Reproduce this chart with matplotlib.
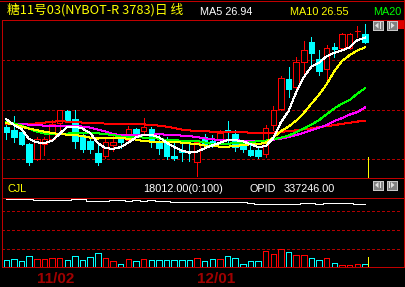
import matplotlib
matplotlib.use("Agg")
import matplotlib.pyplot as plt
from matplotlib.lines import Line2D
from matplotlib.patches import Rectangle, Polygon
from matplotlib.transforms import blended_transform_factory

# daily bars, sugar no.11 (NYBOT) march contract
opens = [23.38, 23.24, 23.16, 22.67, 22.08, 22.68, 22.90, 23.54, 24.02, 23.68,
         23.04, 22.80, 22.34, 22.20, 22.64, 22.90, 22.86, 23.28, 23.19, 23.28,
         22.80, 22.80, 22.20, 22.42, 22.39, 21.98, 22.96, 22.82, 22.86, 23.24,
         23.08, 22.68, 22.44, 22.44, 22.28, 23.44, 24.07, 25.28, 24.98, 25.98,
         26.75, 26.07, 25.67, 26.56, 26.51, 26.51, 27.20, 27.08]
highs = [23.68, 23.80, 23.20, 22.72, 22.96, 22.98, 23.66, 24.04, 24.06, 24.04,
         23.12, 22.96, 22.72, 22.92, 23.08, 22.94, 23.40, 23.32, 23.72, 23.38,
         23.10, 22.96, 22.72, 22.76, 22.68, 22.84, 23.08, 23.04, 23.26, 23.62,
         23.24, 22.78, 22.76, 22.58, 23.44, 24.20, 25.40, 25.76, 26.15, 26.80,
         26.98, 26.44, 26.64, 26.72, 27.14, 27.12, 27.40, 27.48]
lows = [22.88, 22.78, 22.64, 21.84, 22.04, 22.24, 22.86, 23.24, 23.58, 22.51,
        22.36, 22.34, 21.84, 22.14, 22.40, 22.52, 22.78, 22.96, 23.12, 22.56,
        22.28, 22.08, 22.04, 22.00, 22.02, 21.40, 22.60, 22.58, 22.80, 22.78,
        22.40, 22.36, 22.20, 22.14, 22.18, 23.24, 24.04, 24.58, 24.91, 25.40,
        25.84, 25.44, 25.11, 26.16, 26.50, 26.48, 26.96, 26.71]
closes = [23.15, 22.98, 22.68, 21.98, 22.88, 22.90, 23.50, 24.03, 23.62, 22.82,
          22.48, 22.47, 21.98, 22.77, 22.76, 22.78, 23.28, 23.12, 23.35, 22.76,
          22.54, 22.22, 22.14, 22.38, 22.36, 22.78, 22.68, 22.68, 23.11, 23.16,
          22.58, 22.48, 22.24, 22.20, 23.31, 24.04, 25.31, 24.87, 25.96, 26.43,
          26.34, 25.62, 26.52, 26.48, 27.08, 27.08, 27.22, 26.78]

# moving averages as drawn
ma5 = [23.68, 23.44, 23.28, 22.88, 22.75, 22.72, 22.82, 23.09, 23.38, 23.38,
       23.30, 23.12, 22.72, 22.52, 22.49, 22.56, 22.74, 22.95, 23.06, 23.05,
       22.96, 22.74, 22.56, 22.42, 22.34, 22.38, 22.51, 22.63, 22.73, 22.84,
       22.84, 22.79, 22.68, 22.56, 22.60, 22.92, 23.56, 24.00, 24.76, 25.36,
       25.78, 25.94, 26.20, 26.33, 26.43, 26.55, 26.84, 26.94]
ma10 = [23.52, 23.46, 23.38, 23.30, 23.24, 23.18, 23.12, 23.08, 23.06, 23.04,
        23.00, 22.94, 22.90, 22.94, 22.94, 22.91, 22.90, 22.86, 22.80, 22.78,
        22.78, 22.78, 22.76, 22.74, 22.71, 22.68, 22.62, 22.60, 22.58, 22.58,
        22.60, 22.64, 22.67, 22.68, 22.74, 22.94, 23.20, 23.38, 23.62, 23.93,
        24.30, 24.66, 25.08, 25.60, 26.00, 26.24, 26.42, 26.55]
ma20 = [23.56, 23.51, 23.42, 23.30, 23.18, 23.10, 23.10, 23.10, 23.10, 23.12,
        23.14, 23.14, 23.11, 23.08, 23.04, 22.98, 22.98, 22.96, 22.94, 22.92,
        22.90, 22.84, 22.83, 22.82, 22.82, 22.80, 22.74, 22.68, 22.68, 22.70,
        22.71, 22.72, 22.75, 22.80, 22.82, 22.87, 22.94, 23.02, 23.16, 23.30,
        23.46, 23.64, 23.88, 24.11, 24.30, 24.44, 24.70, 24.91]
ma_mid = [23.51, 23.50, 23.48, 23.46, 23.44, 23.42, 23.40, 23.40, 23.40, 23.40,
          23.38, 23.34, 23.26, 23.18, 23.08, 23.04, 23.04, 23.04, 23.05, 23.06,
          23.07, 23.06, 23.04, 23.02, 23.00, 22.96, 22.91, 22.87, 22.85, 22.84,
          22.83, 22.82, 22.80, 22.80, 22.82, 22.86, 22.90, 22.96, 23.04, 23.14,
          23.24, 23.34, 23.44, 23.60, 23.72, 23.86, 23.96, 24.14]
ma_long = [23.47, 23.48, 23.48, 23.48, 23.51, 23.54, 23.57, 23.60, 23.58, 23.56,
           23.54, 23.53, 23.52, 23.50, 23.48, 23.48, 23.47, 23.48, 23.47, 23.44,
           23.42, 23.38, 23.32, 23.26, 23.23, 23.20, 23.19, 23.18, 23.17, 23.16,
           23.16, 23.15, 23.14, 23.12, 23.12, 23.14, 23.17, 23.20, 23.23, 23.27,
           23.31, 23.36, 23.40, 23.44, 23.49, 23.53, 23.58, 23.62]

volume = [44700, 51400, 38000, 71400, 51400, 51400, 58000, 58000, 44700, 71400,
          44700, 64700, 91400, 58000, 38000, 18000, 51400, 38000, 51400, 46700,
          46700, 46700, 46700, 46700, 46700, 58000, 38000, 51400, 51400, 71400,
          58000, 18000, 38000, 38000, 106700, 84700, 118100, 98000, 78000, 78000,
          58000, 44700, 58000, 24700, 11300, 11300, 18000, 18012]
open_interest = [347800, 347800, 347800, 347800, 345800, 345800, 345800, 345800, 345800, 347200,
                 347200, 343200, 343200, 343200, 345200, 345200, 343200, 345200, 343200, 345800,
                 343200, 343200, 341200, 341200, 341200, 341200, 341200, 341200, 341200, 341200,
                 341200, 341200, 339800, 337200, 337200, 337200, 337200, 337200, 337200, 339200,
                 339200, 337200, 339200, 339200, 339200, 339200, 337246, 337246]

tick_pos = [4, 25]
tick_labels = ["11/02", "12/01"]
price_grid = [22.07, 24.05, 26.03]

W, H = 405, 287
RED = "#ff0000"
CYAN = "#00ffff"
FRAME = "#c00000"
DASH = "#b00000"
LATIN = "Liberation Sans"
LW = 0.72  # one pixel at 100 dpi

plt.rcParams["lines.scale_dashes"] = False


def fx(px):
    return px / W


def fy(py):
    return 1 - py / H


fig = plt.figure(figsize=(W / 100, H / 100), dpi=100, facecolor="black")

# panels (pixel layout of the original terminal window)
ax = fig.add_axes([fx(2), fy(178), fx(401.5), 158 / H])
axv = fig.add_axes([fx(2), fy(267), fx(401.5), 69 / H])
for a in (ax, axv):
    a.set_facecolor("black")
    a.set_axis_off()
    a.set_xlim(-0.564, 52.06)
ax.set_ylim(21.324, 27.644)
axv.set_ylim(0, 460000)

n = len(closes)
idx = list(range(n))
bw = 0.72

for lv in price_grid:
    ax.axhline(lv, color=DASH, lw=LW, dashes=(2.0, 1.6), antialiased=False, zorder=1)
for f in (0.26, 0.535, 0.81):
    axv.plot([0, 0.994], [f, f], transform=axv.transAxes, color=DASH, lw=LW,
             dashes=(2.0, 1.6), antialiased=False, zorder=1)

# candles
for i in idx:
    o, h, l, c = opens[i], highs[i], lows[i], closes[i]
    up = c >= o
    col = RED if up else CYAN
    top, bot = max(o, c), min(o, c)
    ax.plot([i, i], [l, h], color=col, lw=LW, antialiased=False, zorder=2)
    body = max(top - bot, 0.01)
    ax.add_patch(Rectangle((i - bw / 2, bot), bw, body,
                           facecolor="black" if up else CYAN, edgecolor=col,
                           lw=LW, antialiased=False, zorder=3))

for vals, col in ((ma_long, RED), (ma_mid, "#ff00ff"), (ma20, "#00ff00"),
                  (ma10, "#ffff00"), (ma5, "#ffffff")):
    ax.plot(idx, vals, color=col, lw=LW, antialiased=False, zorder=4)

# volume bars (hollow)
vcols = [RED if closes[i] >= opens[i] else CYAN for i in idx]
axv.bar(idx, volume, width=bw, facecolor="black", edgecolor=vcols,
        lw=LW, antialiased=False, zorder=2)

axo = axv.twinx()
axo.set_axis_off()
axo.set_ylim(211846, 349846)
axo.plot(idx, open_interest, color="white", lw=LW, drawstyle="steps-mid",
         antialiased=False)

# yellow cursor at the last bar
ax.axvline(n - 1 + 0.42, ymin=0, ymax=0.133, color="#ffff00", lw=LW, antialiased=False)
axv.axvline(n - 1 + 0.42, ymin=0, ymax=0.145, color="#ffff00", lw=LW,
            antialiased=False, zorder=5)


# frame lines
def hline(py, x0=1.5, x1=403.5, color=FRAME):
    fig.add_artist(Line2D([fx(x0), fx(x1)], [fy(py), fy(py)], color=color,
                          lw=LW, antialiased=False))


def vline(px, y0, y1, color=FRAME):
    fig.add_artist(Line2D([fx(px), fx(px)], [fy(y0), fy(y1)], color=color,
                          lw=LW, antialiased=False))


hline(0.5, 0, 405)
hline(19.5)
hline(178)
hline(197.5)
hline(267)
vline(1.5, 19.5, 267)
vline(403.5, 0, 267)


# scroll buttons
def buttons(py):
    for x0, left in ((372.5, True), (387, False)):
        fig.add_artist(Rectangle((fx(x0), fy(py + 9)), 10 / W, 9 / H,
                                 facecolor="#808080", edgecolor="#c8c8c8",
                                 lw=LW, transform=fig.transFigure,
                                 antialiased=False))
        if left:
            tri = [(x0 + 2.5, py + 4.5), (x0 + 6, py + 1.5), (x0 + 6, py + 7.5)]
            bar = (x0 + 7, x0 + 8.2)
        else:
            tri = [(x0 + 7.5, py + 4.5), (x0 + 4, py + 1.5), (x0 + 4, py + 7.5)]
            bar = (x0 + 1.8, x0 + 3)
        fig.add_artist(Polygon([(fx(a), fy(b)) for a, b in tri], closed=True,
                               facecolor="#e0e0e0", edgecolor="none",
                               transform=fig.transFigure))
        fig.add_artist(Rectangle((fx(bar[0]), fy(py + 7.5)), (bar[1] - bar[0]) / W,
                                 6 / H, facecolor="#e0e0e0", edgecolor="none",
                                 transform=fig.transFigure))


buttons(21)
buttons(180.5)
fig.add_artist(Rectangle((fx(398.3), fy(29.3)), 5.2 / W, 9.3 / H,
                         facecolor="#e00000", edgecolor="none",
                         transform=fig.transFigure))

# header texts
fig.text(fx(7), fy(13.2), "糖11号03(NYBOT-R 3783)日 线", color="#ffff00",
         fontsize=9.2, family=["Noto Sans CJK SC", "DejaVu Sans"], va="baseline")
fig.text(fx(200), fy(15), f"MA5 {ma5[-1]:.2f}", color="white", fontsize=7.8,
         family=LATIN, va="baseline")
fig.text(fx(290), fy(15), f"MA10 {ma10[-1]:.2f}", color="#ffff00", fontsize=7.8,
         family=LATIN, va="baseline")
fig.text(fx(401), fy(15), "MA20", color="#00ff00", fontsize=7.8,
         family=LATIN, va="baseline", ha="right")

fig.text(fx(8), fy(191.6), "CJL", color="#ffff00", fontsize=7.8, family=LATIN,
         va="baseline")
fig.text(fx(143.3), fy(191.6), f"{volume[-1]:.2f}(0:100)", color="white",
         fontsize=7.8, family=LATIN, va="baseline")
fig.text(fx(249.3), fy(191.6), "OPID", color="white", fontsize=7.8, family=LATIN,
         va="baseline")
fig.text(fx(284), fy(191.6), f"{open_interest[-1]:.2f}", color="white",
         fontsize=7.8, family=LATIN, va="baseline")

# date labels under the volume panel
tr = blended_transform_factory(axv.transData, fig.transFigure)
for p, lab in zip(tick_pos, tick_labels):
    axv.text(p, fy(283.3), lab, transform=tr, color="#a00000", fontsize=11,
             fontweight="bold", family=LATIN, va="baseline", ha="left")

fig.savefig("out.png", dpi=100, facecolor="black")
